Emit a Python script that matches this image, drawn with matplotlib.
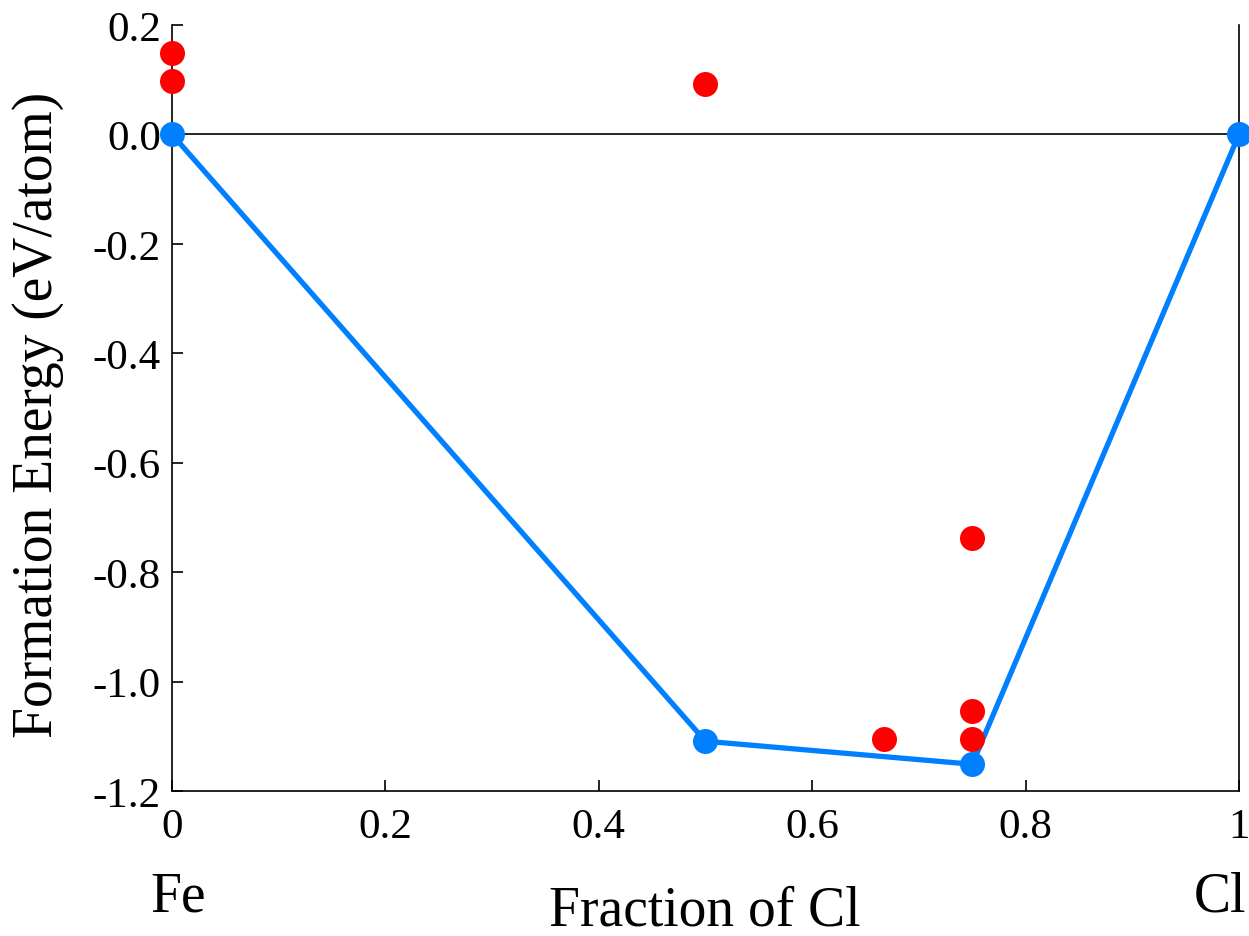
import matplotlib
matplotlib.use("Agg")
import matplotlib.pyplot as plt

plt.rcParams['font.family'] = ['Liberation Serif', 'DejaVu Serif']

# Data
hull_x = [0.0, 0.5, 0.75, 1.0]
hull_y = [0.0, -1.109, -1.151, 0.0]
unstable_x = [0.0, 0.0, 0.5, 0.667, 0.75, 0.75, 0.75]
unstable_y = [0.148, 0.097, 0.093, -1.105, -0.738, -1.054, -1.105]
x_ticks = [0, 0.2, 0.4, 0.6, 0.8, 1]
x_tick_labels = ['0', '0.2', '0.4', '0.6', '0.8', '1']
y_ticks = [0.2, 0.0, -0.2, -0.4, -0.6, -0.8, -1.0, -1.2]
y_tick_labels = ['0.2', '0.0', '-0.2', '-0.4', '-0.6', '-0.8', '-1.0', '-1.2']
end_left = 'Fe'
end_right = 'Cl'

fig = plt.figure(figsize=(12.49, 9.37), dpi=100)
ax = fig.add_axes([0.1377, 0.1547, 0.9920 - 0.1377, 0.9723 - 0.1547])

ax.axhline(0, color='black', lw=1.2, zorder=1)
ax.plot(hull_x, hull_y, color='#0080FF', lw=3.8, zorder=2)
ax.plot(unstable_x, unstable_y, 'o', color='#FF0000', ms=18, mec='none', zorder=3, clip_on=False)
ax.plot(hull_x, hull_y, 'o', color='#0080FF', ms=18, mec='none', zorder=4, clip_on=False)

ax.set_xlim(0, 1)
ax.set_ylim(-1.2, 0.2)
ax.set_xticks(x_ticks)
ax.set_xticklabels(x_tick_labels)
ax.set_yticks(y_ticks)
ax.set_yticklabels(y_tick_labels)
ax.tick_params(direction='in', length=8, width=1.2, labelsize=31, pad=12)
ax.tick_params(axis='y', pad=8)
ax.spines['top'].set_visible(False)
for s in ['left', 'right', 'bottom']:
    ax.spines[s].set_linewidth(1.2)

fig.text(38 / 1249, 1 - 415 / 937, 'Formation Energy (eV/atom)', fontsize=40,
         rotation=90, ha='center', va='center')
fig.text(705 / 1249, 1 - 912 / 937, 'Fraction of Cl', fontsize=40, ha='center', va='center')

fig.text(178 / 1249, 1 - 898 / 937, end_left, fontsize=40, ha='center', va='center')
fig.text(1220 / 1249, 1 - 898 / 937, end_right, fontsize=40, ha='center', va='center')

fig.savefig('out.png', dpi=100)
